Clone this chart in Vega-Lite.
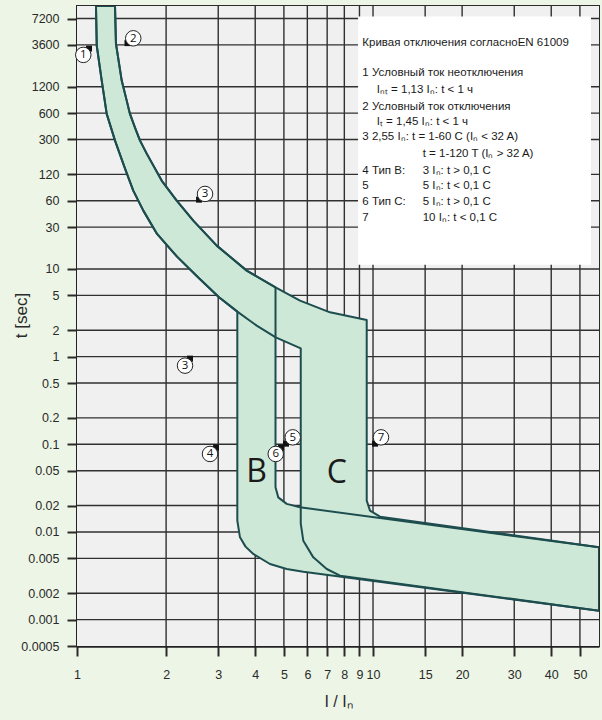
{
  "$schema": "https://vega.github.io/schema/vega-lite/v6.json",
  "width": 522,
  "height": 640,
  "autosize": "none",
  "padding": {"left": 77, "top": 6, "right": 3, "bottom": 74},
  "background": "#edf6e6",
  "config": {
    "view": {"stroke": "#2b2b2b", "strokeWidth": 2},
    "font": "Liberation Sans"
  },
  "datasets": {
    "plot": [{"I": 1, "I2": 58, "t": 0.0005, "t2": 10000}],
    "grid": [
      {"g": "v2", "I": 2, "t": 0.0005}, {"g": "v2", "I": 2, "t": 10000},
      {"g": "v3", "I": 3, "t": 0.0005}, {"g": "v3", "I": 3, "t": 10000},
      {"g": "v4", "I": 4, "t": 0.0005}, {"g": "v4", "I": 4, "t": 10000},
      {"g": "v5", "I": 5, "t": 0.0005}, {"g": "v5", "I": 5, "t": 10000},
      {"g": "v6", "I": 6, "t": 0.0005}, {"g": "v6", "I": 6, "t": 10000},
      {"g": "v7", "I": 7, "t": 0.0005}, {"g": "v7", "I": 7, "t": 10000},
      {"g": "v8", "I": 8, "t": 0.0005}, {"g": "v8", "I": 8, "t": 10000},
      {"g": "v9", "I": 9, "t": 0.0005}, {"g": "v9", "I": 9, "t": 10000},
      {"g": "v10", "I": 10, "t": 0.0005}, {"g": "v10", "I": 10, "t": 10000},
      {"g": "v15", "I": 15, "t": 0.0005}, {"g": "v15", "I": 15, "t": 10000},
      {"g": "v20", "I": 20, "t": 0.0005}, {"g": "v20", "I": 20, "t": 10000},
      {"g": "v30", "I": 30, "t": 0.0005}, {"g": "v30", "I": 30, "t": 10000},
      {"g": "v40", "I": 40, "t": 0.0005}, {"g": "v40", "I": 40, "t": 10000},
      {"g": "v50", "I": 50, "t": 0.0005}, {"g": "v50", "I": 50, "t": 10000},
      {"g": "h7200", "I": 1, "t": 7200}, {"g": "h7200", "I": 58, "t": 7200},
      {"g": "h3600", "I": 1, "t": 3600}, {"g": "h3600", "I": 58, "t": 3600},
      {"g": "h1200", "I": 1, "t": 1200}, {"g": "h1200", "I": 58, "t": 1200},
      {"g": "h600", "I": 1, "t": 600}, {"g": "h600", "I": 58, "t": 600},
      {"g": "h300", "I": 1, "t": 300}, {"g": "h300", "I": 58, "t": 300},
      {"g": "h120", "I": 1, "t": 120}, {"g": "h120", "I": 58, "t": 120},
      {"g": "h60", "I": 1, "t": 60}, {"g": "h60", "I": 58, "t": 60},
      {"g": "h30", "I": 1, "t": 30}, {"g": "h30", "I": 58, "t": 30},
      {"g": "h10", "I": 1, "t": 10}, {"g": "h10", "I": 58, "t": 10},
      {"g": "h5", "I": 1, "t": 5}, {"g": "h5", "I": 58, "t": 5},
      {"g": "h2", "I": 1, "t": 2}, {"g": "h2", "I": 58, "t": 2},
      {"g": "h1", "I": 1, "t": 1}, {"g": "h1", "I": 58, "t": 1},
      {"g": "h0.5", "I": 1, "t": 0.5}, {"g": "h0.5", "I": 58, "t": 0.5},
      {"g": "h0.2", "I": 1, "t": 0.2}, {"g": "h0.2", "I": 58, "t": 0.2},
      {"g": "h0.1", "I": 1, "t": 0.1}, {"g": "h0.1", "I": 58, "t": 0.1},
      {"g": "h0.05", "I": 1, "t": 0.05}, {"g": "h0.05", "I": 58, "t": 0.05},
      {"g": "h0.02", "I": 1, "t": 0.02}, {"g": "h0.02", "I": 58, "t": 0.02},
      {"g": "h0.01", "I": 1, "t": 0.01}, {"g": "h0.01", "I": 58, "t": 0.01},
      {"g": "h0.005", "I": 1, "t": 0.005}, {"g": "h0.005", "I": 58, "t": 0.005},
      {"g": "h0.002", "I": 1, "t": 0.002}, {"g": "h0.002", "I": 58, "t": 0.002},
      {"g": "h0.001", "I": 1, "t": 0.001}, {"g": "h0.001", "I": 58, "t": 0.001}
    ],
    "bands": [
      {"shape": "B", "k": 1, "I": 1.159, "t": 10000},
      {"shape": "B", "k": 2, "I": 1.166, "t": 3535},
      {"shape": "B", "k": 3, "I": 1.212, "t": 1409},
      {"shape": "B", "k": 4, "I": 1.26, "t": 587.5},
      {"shape": "B", "k": 5, "I": 1.344, "t": 291.3},
      {"shape": "B", "k": 6, "I": 1.453, "t": 139.6},
      {"shape": "B", "k": 7, "I": 1.549, "t": 78.3},
      {"shape": "B", "k": 8, "I": 1.675, "t": 46.3},
      {"shape": "B", "k": 9, "I": 1.864, "t": 25.12},
      {"shape": "B", "k": 10, "I": 2.177, "t": 13.83},
      {"shape": "B", "k": 11, "I": 2.563, "t": 8.03},
      {"shape": "B", "k": 12, "I": 3.018, "t": 4.75},
      {"shape": "B", "k": 13, "I": 3.48, "t": 3.262},
      {"shape": "B", "k": 14, "I": 3.48, "t": 0.01345},
      {"shape": "B", "k": 15, "I": 3.553, "t": 0.00868},
      {"shape": "B", "k": 16, "I": 3.71, "t": 0.0068},
      {"shape": "B", "k": 17, "I": 3.94, "t": 0.00561},
      {"shape": "B", "k": 18, "I": 4.487, "t": 0.00431},
      {"shape": "B", "k": 19, "I": 5.11, "t": 0.00378},
      {"shape": "B", "k": 20, "I": 5.814, "t": 0.00352},
      {"shape": "B", "k": 21, "I": 58, "t": 0.001265},
      {"shape": "B", "k": 22, "I": 58, "t": 0.00667},
      {"shape": "B", "k": 23, "I": 5.667, "t": 0.0191},
      {"shape": "B", "k": 24, "I": 5.11, "t": 0.0209},
      {"shape": "B", "k": 25, "I": 4.786, "t": 0.0248},
      {"shape": "B", "k": 26, "I": 4.684, "t": 0.0323},
      {"shape": "B", "k": 27, "I": 4.684, "t": 6.175},
      {"shape": "B", "k": 28, "I": 3.744, "t": 9.576},
      {"shape": "B", "k": 29, "I": 2.965, "t": 18.47},
      {"shape": "B", "k": 30, "I": 2.471, "t": 35.61},
      {"shape": "B", "k": 31, "I": 2.172, "t": 60.24},
      {"shape": "B", "k": 32, "I": 1.932, "t": 101.9},
      {"shape": "B", "k": 33, "I": 1.72, "t": 207},
      {"shape": "B", "k": 34, "I": 1.633, "t": 291.3},
      {"shape": "B", "k": 35, "I": 1.57, "t": 410},
      {"shape": "B", "k": 36, "I": 1.51, "t": 587.5},
      {"shape": "B", "k": 37, "I": 1.472, "t": 833},
      {"shape": "B", "k": 38, "I": 1.416, "t": 1409},
      {"shape": "B", "k": 39, "I": 1.354, "t": 3724},
      {"shape": "B", "k": 40, "I": 1.344, "t": 10000},
      {"shape": "B", "k": 41, "I": 1.159, "t": 10000},
      {"shape": "C", "k": 1, "I": 1.159, "t": 10000},
      {"shape": "C", "k": 2, "I": 1.166, "t": 3535},
      {"shape": "C", "k": 3, "I": 1.212, "t": 1409},
      {"shape": "C", "k": 4, "I": 1.26, "t": 587.5},
      {"shape": "C", "k": 5, "I": 1.344, "t": 291.3},
      {"shape": "C", "k": 6, "I": 1.453, "t": 139.6},
      {"shape": "C", "k": 7, "I": 1.549, "t": 78.3},
      {"shape": "C", "k": 8, "I": 1.675, "t": 46.3},
      {"shape": "C", "k": 9, "I": 1.864, "t": 25.12},
      {"shape": "C", "k": 10, "I": 2.177, "t": 13.83},
      {"shape": "C", "k": 11, "I": 2.563, "t": 8.03},
      {"shape": "C", "k": 12, "I": 3.018, "t": 4.75},
      {"shape": "C", "k": 13, "I": 3.48, "t": 3.262},
      {"shape": "C", "k": 14, "I": 4.046, "t": 2.258},
      {"shape": "C", "k": 15, "I": 4.692, "t": 1.661},
      {"shape": "C", "k": 16, "I": 5.7, "t": 1.244},
      {"shape": "C", "k": 17, "I": 5.7, "t": 0.01244},
      {"shape": "C", "k": 18, "I": 5.814, "t": 0.00796},
      {"shape": "C", "k": 19, "I": 6.285, "t": 0.00513},
      {"shape": "C", "k": 20, "I": 6.978, "t": 0.00378},
      {"shape": "C", "k": 21, "I": 7.736, "t": 0.00317},
      {"shape": "C", "k": 22, "I": 58, "t": 0.001265},
      {"shape": "C", "k": 23, "I": 58, "t": 0.00667},
      {"shape": "C", "k": 24, "I": 10.56, "t": 0.01495},
      {"shape": "C", "k": 25, "I": 9.77, "t": 0.0175},
      {"shape": "C", "k": 26, "I": 9.522, "t": 0.02276},
      {"shape": "C", "k": 27, "I": 9.522, "t": 2.623},
      {"shape": "C", "k": 28, "I": 7.157, "t": 3.202},
      {"shape": "C", "k": 29, "I": 5.667, "t": 4.354},
      {"shape": "C", "k": 30, "I": 4.684, "t": 6.175},
      {"shape": "C", "k": 31, "I": 3.744, "t": 9.576},
      {"shape": "C", "k": 32, "I": 2.965, "t": 18.47},
      {"shape": "C", "k": 33, "I": 2.471, "t": 35.61},
      {"shape": "C", "k": 34, "I": 2.172, "t": 60.24},
      {"shape": "C", "k": 35, "I": 1.932, "t": 101.9},
      {"shape": "C", "k": 36, "I": 1.72, "t": 207},
      {"shape": "C", "k": 37, "I": 1.633, "t": 291.3},
      {"shape": "C", "k": 38, "I": 1.57, "t": 410},
      {"shape": "C", "k": 39, "I": 1.51, "t": 587.5},
      {"shape": "C", "k": 40, "I": 1.472, "t": 833},
      {"shape": "C", "k": 41, "I": 1.416, "t": 1409},
      {"shape": "C", "k": 42, "I": 1.354, "t": 3724},
      {"shape": "C", "k": 43, "I": 1.344, "t": 10000},
      {"shape": "C", "k": 44, "I": 1.159, "t": 10000}
    ],
    "box": [{"I": 8.9, "I2": 54.5, "t": 11.21, "t2": 7570}],
    "markers": [
      {"I": 1.098, "t": 3266},
      {"I": 1.481, "t": 3773},
      {"I": 2.584, "t": 61.8},
      {"I": 2.409, "t": 0.949},
      {"I": 2.949, "t": 0.0916},
      {"I": 5.083, "t": 0.1017},
      {"I": 4.889, "t": 0.0916},
      {"I": 10.16, "t": 0.1017}
    ],
    "circles": [
      {"I": 1.05, "t": 2768, "n": "1"},
      {"I": 1.549, "t": 4280, "n": "2"},
      {"I": 2.707, "t": 71.8, "n": "3"},
      {"I": 2.317, "t": 0.789, "n": "3"},
      {"I": 2.814, "t": 0.0776, "n": "4"},
      {"I": 5.355, "t": 0.12, "n": "5"},
      {"I": 4.692, "t": 0.0776, "n": "6"},
      {"I": 10.64, "t": 0.12, "n": "7"}
    ],
    "letters": [
      {"I": 4.046, "t": 0.0479, "s": "B"},
      {"I": 7.54, "t": 0.0466, "s": "C"}
    ],
    "legend": [
      {"I": 9.2, "t": 3754, "s": "Кривая отключения согласноEN 61009"},
      {"I": 9.2, "t": 1707, "s": "1 Условный ток неотключения"},
      {"I": 10.29, "t": 1112, "s": "Iₙₜ = 1,13 Iₙ: t < 1 ч"},
      {"I": 9.2, "t": 698.8, "s": "2 Условный ток отключения"},
      {"I": 10.29, "t": 471.1, "s": "Iₜ = 1,45 Iₙ: t < 1 ч"},
      {"I": 9.2, "t": 317.7, "s": "3 2,55 Iₙ: t = 1-60 C (Iₙ < 32 A)"},
      {"I": 14.72, "t": 205.4, "s": "t = 1-120 T (Iₙ > 32 A)"},
      {"I": 9.2, "t": 130.1, "s": "4 Тип B:"},
      {"I": 14.72, "t": 130.1, "s": "3 Iₙ: t > 0,1 C"},
      {"I": 9.2, "t": 88.2, "s": "5"},
      {"I": 14.72, "t": 88.2, "s": "5 Iₙ: t < 0,1 C"},
      {"I": 9.2, "t": 57.6, "s": "6 Тип C:"},
      {"I": 14.72, "t": 57.6, "s": "5 Iₙ: t > 0,1 C"},
      {"I": 9.2, "t": 38.2, "s": "7"},
      {"I": 14.72, "t": 38.2, "s": "10 Iₙ: t < 0,1 C"}
    ]
  },
  "encoding": {
    "x": {
      "field": "I",
      "type": "quantitative",
      "scale": {"type": "log", "domain": [1, 58], "nice": false, "zero": false},
      "axis": {
        "title": "I / Iₙ",
        "titleFont": "Liberation Sans",
        "titleFontSize": 16,
        "titleFontWeight": "normal",
        "titleColor": "#2a2a2a",
        "titleBaseline": "top",
        "titleY": 47,
        "values": [1, 2, 3, 4, 5, 6, 7, 8, 9, 10, 15, 20, 30, 40, 50],
        "labelExpr": "'' + datum.value",
        "labelOverlap": false,
        "labelFlush": false,
        "labelFont": "Liberation Sans",
        "labelFontSize": 12.5,
        "labelColor": "#2a2a2a",
        "labelPadding": 12,
        "tickSize": 10,
        "tickWidth": 2,
        "tickColor": "#2a2a2a",
        "domainColor": "#222222",
        "domainWidth": 2.5,
        "grid": false
      }
    },
    "y": {
      "field": "t",
      "type": "quantitative",
      "scale": {"type": "log", "domain": [0.0005, 10000], "nice": false, "zero": false},
      "axis": {
        "title": "t [sec]",
        "titleFont": "Liberation Sans",
        "titleFontSize": 17,
        "titleFontWeight": "normal",
        "titleColor": "#2a2a2a",
        "titleX": -47,
        "titleY": 309,
        "values": [7200, 3600, 1200, 600, 300, 120, 60, 30, 10, 5, 2, 1, 0.5, 0.2, 0.1, 0.05, 0.02, 0.01, 0.005, 0.002, 0.001, 0.0005],
        "labelExpr": "'' + datum.value",
        "labelOverlap": false,
        "labelFlush": false,
        "labelFont": "Liberation Sans",
        "labelFontSize": 12.5,
        "labelColor": "#2a2a2a",
        "labelPadding": 8,
        "tickSize": 10,
        "tickWidth": 2,
        "tickColor": "#2a2a2a",
        "domainColor": "#222222",
        "domainWidth": 2.5,
        "grid": false
      }
    }
  },
  "layer": [
    {
      "data": {"name": "plot"},
      "mark": {"type": "rect", "fill": "#f0f0f0", "stroke": null},
      "encoding": {
        "x2": {"field": "I2"},
        "y2": {"field": "t2"}
      }
    },
    {
      "data": {"name": "grid"},
      "mark": {"type": "line", "stroke": "#303030", "strokeWidth": 1.4, "opacity": 1, "strokeOpacity": 1, "interpolate": "linear"},
      "encoding": {
        "detail": {"field": "g", "type": "nominal"}
      }
    },
    {
      "data": {"name": "box"},
      "mark": {"type": "rect", "fill": "#ffffff", "stroke": null},
      "encoding": {
        "x2": {"field": "I2"},
        "y2": {"field": "t2"}
      }
    },
    {
      "data": {"name": "bands"},
      "mark": {"type": "line", "fill": "#cde8d7", "strokeOpacity": 0, "clip": true, "interpolate": "linear"},
      "encoding": {
        "detail": {"field": "shape", "type": "nominal"},
        "order": {"field": "k", "type": "quantitative"}
      }
    },
    {
      "data": {"name": "bands"},
      "mark": {"type": "line", "stroke": "#1d4d4e", "strokeWidth": 2, "strokeJoin": "round", "clip": true, "interpolate": "linear"},
      "encoding": {
        "detail": {"field": "shape", "type": "nominal"},
        "order": {"field": "k", "type": "quantitative"}
      }
    },
    {
      "data": {"name": "markers"},
      "mark": {"type": "point", "shape": "square", "filled": true, "fill": "#111111", "size": 36, "opacity": 1}
    },
    {
      "data": {"name": "circles"},
      "mark": {"type": "point", "shape": "circle", "filled": true, "fill": "#ffffff", "stroke": "#222222", "strokeWidth": 1, "size": 240, "opacity": 1}
    },
    {
      "data": {"name": "circles"},
      "mark": {"type": "text", "font": "Open Sans", "fontSize": 11.5, "color": "#111111", "align": "center", "baseline": "middle", "dy": 0.5},
      "encoding": {"text": {"field": "n"}}
    },
    {
      "data": {"name": "letters"},
      "mark": {"type": "text", "font": "Open Sans", "fontSize": 32, "color": "#1a1a1a", "align": "center", "baseline": "middle"},
      "encoding": {"text": {"field": "s"}}
    },
    {
      "data": {"name": "legend"},
      "mark": {"type": "text", "font": "Liberation Sans", "fontSize": 11.5, "color": "#1a1a1a", "align": "left", "baseline": "middle"},
      "encoding": {"text": {"field": "s"}}
    }
  ]
}
